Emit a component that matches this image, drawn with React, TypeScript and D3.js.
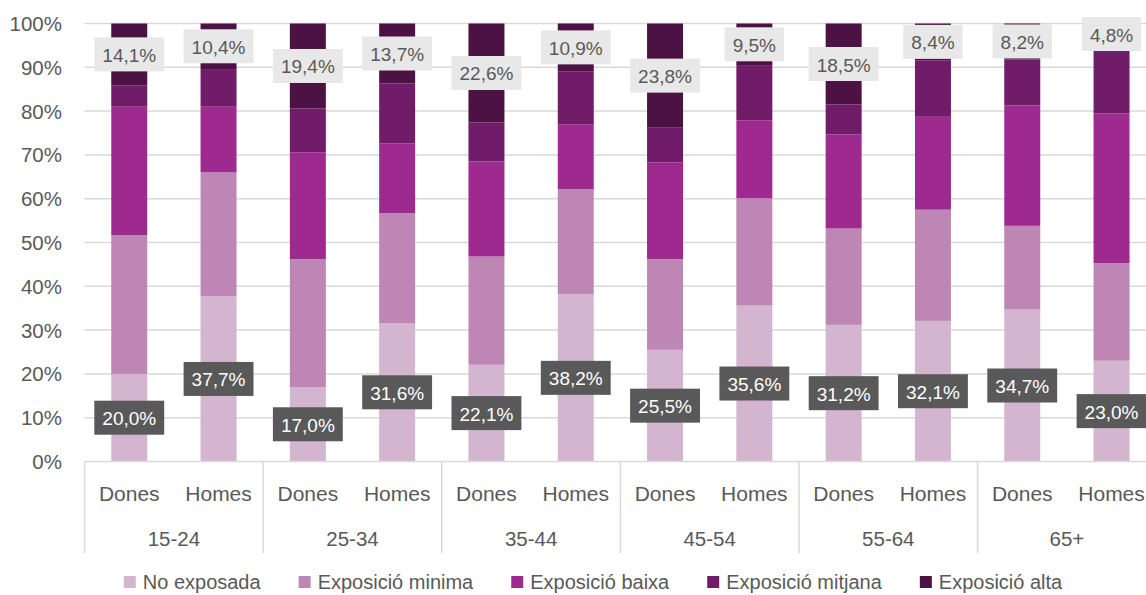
import React, { useEffect, useRef } from "react";
import * as d3 from "d3";

const ages = ["15-24", "25-34", "35-44", "45-54", "55-64", "65+"];
const sexes = ["Dones", "Homes"];
const seriesNames = ["No exposada", "Exposició minima", "Exposició baixa", "Exposició mitjana", "Exposició alta"];

// one value per bar: 15-24 Dones, 15-24 Homes, 25-34 Dones, ...
const noExposada = [20.0, 37.7, 17.0, 31.6, 22.1, 38.2, 25.5, 35.6, 31.2, 32.1, 34.7, 23.0];
const minima = [31.7, 28.3, 29.2, 25.1, 24.7, 24.0, 20.7, 24.5, 22.0, 25.4, 19.1, 22.3];
const baixa = [29.3, 15.0, 24.4, 15.9, 21.7, 14.8, 22.1, 17.8, 21.5, 21.2, 27.5, 34.2];
const mitjana = [4.9, 8.6, 10.0, 13.7, 8.9, 12.1, 7.9, 12.6, 6.8, 12.9, 10.5, 15.7];
const alta = [14.1, 10.4, 19.4, 13.7, 22.6, 10.9, 23.8, 9.5, 18.5, 8.4, 8.2, 4.8];

const yTicks = [0, 10, 20, 30, 40, 50, 60, 70, 80, 90, 100];

const colors = ["#d4b5cf", "#bd86b5", "#9f2a8f", "#701c68", "#4c1243"];
const FONT = "'Liberation Sans', Arial, sans-serif";
const TEXT = "#595959";
const GRID = "#d9d9d9";

const App = () => {
  const ref = useRef<SVGGElement>(null);

  useEffect(() => {
    document.body.style.margin = "0";
    const g = d3.select(ref.current);
    g.selectAll("*").remove();

    const rows = ages.flatMap((age, i) =>
      sexes.map((sex, j) => {
        const k = i * 2 + j;
        return {
          age,
          sex,
          [seriesNames[0]]: noExposada[k],
          [seriesNames[1]]: minima[k],
          [seriesNames[2]]: baixa[k],
          [seriesNames[3]]: mitjana[k],
          [seriesNames[4]]: alta[k],
        };
      })
    );

    const y = d3.scaleLinear().domain([0, 100]).range([461.5, 23.5]);
    const x0 = d3.scaleBand().domain(ages).range([84.6, 1156.2]).padding(0);
    const x1 = d3
      .scaleBand()
      .domain(sexes)
      .range([0, x0.bandwidth()])
      .paddingInner(0.597)
      .paddingOuter(0.2985);
    const barX = (d: any) => (x0(d.age) as number) + (x1(d.sex) as number);

    // grid
    g.append("g")
      .selectAll("line")
      .data(yTicks.slice(1))
      .enter()
      .append("line")
      .attr("x1", 84.6)
      .attr("x2", 1160)
      .attr("y1", d => y(d))
      .attr("y2", d => y(d))
      .attr("stroke", GRID)
      .attr("stroke-width", 1.5);

    g.append("g")
      .selectAll("text")
      .data(yTicks)
      .enter()
      .append("text")
      .attr("x", 62)
      .attr("y", d => y(d))
      .attr("text-anchor", "end")
      .attr("dominant-baseline", "central")
      .style("font-family", FONT)
      .style("font-size", "20.5px")
      .style("fill", TEXT)
      .text(d => d + "%");

    // bars
    const stacked = d3.stack().keys(seriesNames)(rows as any);
    g.append("g")
      .selectAll("g")
      .data(stacked)
      .enter()
      .append("g")
      .attr("fill", (d, i) => colors[i])
      .selectAll("rect")
      .data(d => d)
      .enter()
      .append("rect")
      .attr("x", d => barX(d.data))
      .attr("width", x1.bandwidth())
      .attr("y", d => y(d[1]))
      .attr("height", d => y(d[0]) - y(d[1]));

    // axis line + category separators
    g.append("line")
      .attr("x1", 84.6)
      .attr("x2", 1160)
      .attr("y1", y(0))
      .attr("y2", y(0))
      .attr("stroke", GRID)
      .attr("stroke-width", 1.5);
    g.append("g")
      .selectAll("line")
      .data(ages)
      .enter()
      .append("line")
      .attr("x1", d => x0(d) as number)
      .attr("x2", d => x0(d) as number)
      .attr("y1", y(0))
      .attr("y2", 553)
      .attr("stroke", GRID)
      .attr("stroke-width", 1.5);

    g.append("g")
      .selectAll("text")
      .data(rows)
      .enter()
      .append("text")
      .attr("x", d => barX(d) + x1.bandwidth() / 2)
      .attr("y", 493)
      .attr("text-anchor", "middle")
      .attr("dominant-baseline", "central")
      .style("font-family", FONT)
      .style("font-size", "21px")
      .style("fill", TEXT)
      .text(d => d.sex);

    g.append("g")
      .selectAll("text")
      .data(ages)
      .enter()
      .append("text")
      .attr("x", d => (x0(d) as number) + x0.bandwidth() / 2)
      .attr("y", 538)
      .attr("text-anchor", "middle")
      .attr("dominant-baseline", "central")
      .style("font-family", FONT)
      .style("font-size", "20.5px")
      .style("fill", TEXT)
      .text(d => d);

    // data labels (bottom and top series)
    const fmt = (v: number) => d3.format(".1f")(v).replace(".", ",") + "%";
    const labelLayer = (idx: number, boxFill: string, textFill: string) => {
      const lg = g
        .append("g")
        .selectAll("g")
        .data(stacked[idx])
        .enter()
        .append("g")
        .attr(
          "transform",
          d => `translate(${barX(d.data) + x1.bandwidth() / 2},${y((d[0] + d[1]) / 2)})`
        );
      lg.append("rect").attr("fill", boxFill);
      const txt = lg
        .append("text")
        .attr("text-anchor", "middle")
        .attr("dominant-baseline", "central")
        .attr("y", 1)
        .style("font-family", FONT)
        .style("font-size", "19px")
        .style("fill", textFill)
        .text(d => fmt(d[1] - d[0]));
      txt.each(function (this: SVGTextElement) {
        const w = this.getComputedTextLength() + 16;
        d3.select(this.previousSibling as SVGRectElement)
          .attr("x", -w / 2)
          .attr("width", w)
          .attr("y", -17)
          .attr("height", 34);
      });
    };
    labelLayer(0, "#595959", "#ffffff");
    labelLayer(4, "#e8e8e8", TEXT);

    // legend
    const leg = g.append("g");
    const items = leg
      .selectAll("g")
      .data(seriesNames)
      .enter()
      .append("g");
    items
      .append("rect")
      .attr("width", 12)
      .attr("height", 12)
      .attr("y", 576)
      .attr("fill", (d, i) => colors[i]);
    items
      .append("text")
      .attr("x", 19)
      .attr("y", 582)
      .attr("dominant-baseline", "central")
      .style("font-family", FONT)
      .style("font-size", "20px")
      .style("fill", TEXT)
      .text(d => d);
    let cx = 0;
    items.each(function (this: SVGGElement) {
      const t = d3.select(this).select("text").node() as SVGTextElement;
      d3.select(this).attr("transform", `translate(${cx},0)`);
      cx += 19 + t.getComputedTextLength() + 38;
    });
    const total = cx - 38;
    leg.attr("transform", `translate(${593 - total / 2},0)`);
  }, []);

  return (
    <svg width={1146} height={595} style={{ display: "block", background: "#ffffff" }}>
      <g ref={ref} />
    </svg>
  );
};

export default App;
